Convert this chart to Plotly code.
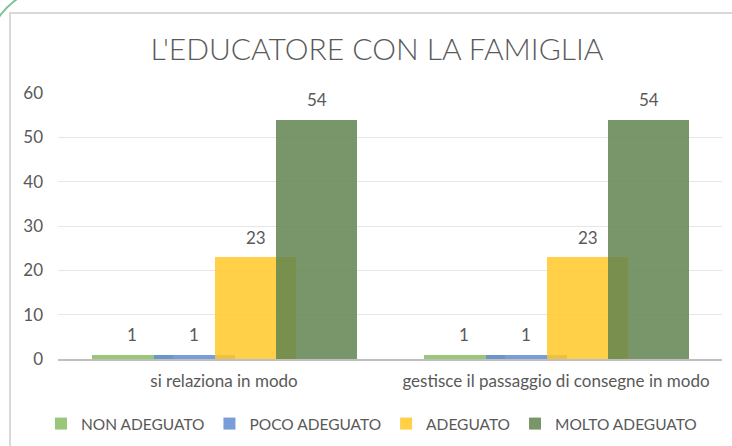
import plotly.graph_objects as go

categories = ["si relaziona in modo", "gestisce il passaggio di consegne in modo"]
series_names = ["NON ADEGUATO", "POCO ADEGUATO", "ADEGUATO", "MOLTO ADEGUATO"]
values_non = [1, 1]
values_poco = [1, 1]
values_adeguato = [23, 23]
values_molto = [54, 54]
y_ticks = [0, 10, 20, 30, 40, 50, 60]

series_values = [values_non, values_poco, values_adeguato, values_molto]
colors = ["rgba(140,190,106,0.88)", "rgba(102,143,208,0.88)", "rgba(255,200,40,0.85)", "rgba(96,132,79,0.85)"]
offsets = [-0.399, -0.212, -0.027, 0.158]
bar_w = 0.244

W, H = 732, 446
L, R, T, B = 58, 722, 93, 359
pw, ph = R - L, B - T
def px(x):
    return (x - L) / pw
def py(y):
    return (B - y) / ph

fig = go.Figure()
for name, vals, col, off in zip(series_names, series_values, colors, offsets):
    fig.add_trace(go.Bar(
        x=categories, y=vals, name=name, marker=dict(color=col, line=dict(width=0)),
        offset=off, width=bar_w,
    ))

font = "Lato, 'Open Sans', sans-serif"
grey = "#595959"
annotations = []
for vals, off in zip(series_values, offsets):
    for cat_i, v in enumerate(vals):
        annotations.append(dict(
            x=cat_i + off + bar_w / 2, y=v, xref="x", yref="y", text=str(v),
            showarrow=False, yanchor="middle", yshift=20,
            font=dict(family=font, size=17, color=grey),
        ))

shapes = [
    dict(type="rect", xref="paper", yref="paper", x0=px(10), x1=px(745), y0=py(13), y1=py(470),
         line=dict(color="#D9D9D9", width=2), fillcolor="rgba(0,0,0,0)", layer="below"),
    dict(type="path", xref="paper", yref="paper",
         path=f"M {px(-1)} {py(17)} Q {px(6)} {py(7)} {px(17)} {py(-1)}",
         line=dict(color="#7CC297", width=2)),
]

fig.update_layout(
    width=W, height=H,
    margin=dict(l=L, r=W - R, t=T, b=H - B, autoexpand=False),
    paper_bgcolor="white", plot_bgcolor="white",
    barmode="overlay",
    title=dict(text="L'EDUCATORE CON LA FAMIGLIA", xref="container", x=377 / W, xanchor="center",
               yref="container", y=1 - 49.5 / H, yanchor="middle",
               font=dict(family=font, size=30, weight=300, color=grey)),
    xaxis=dict(type="category", range=[-0.5, 1.5], showgrid=False, showline=True, linecolor="#BFBFBF", linewidth=2,
               ticks="", tickfont=dict(family=font, size=17, color=grey), ticklabelstandoff=6, fixedrange=True,
               automargin=False),
    yaxis=dict(range=[0, 60], tickvals=y_ticks, showgrid=True, gridcolor="#E6E6E6", gridwidth=1, zeroline=False,
               showline=False, ticks="", tickfont=dict(family=font, size=17, color=grey), ticklabelstandoff=14,
               fixedrange=True, automargin=False),
    legend=dict(orientation="h", xref="container", x=371.5 / W, xanchor="center",
                yref="container", y=1 - 424 / H, yanchor="middle",
                font=dict(family=font, size=15.5, color=grey), itemwidth=30, traceorder="normal"),
    annotations=annotations,
    shapes=shapes,
    bargap=0,
)

fig.write_html("out.html", config={"displayModeBar": False},
               post_script="document.body.style.margin='0';document.body.style.overflow='hidden';")
